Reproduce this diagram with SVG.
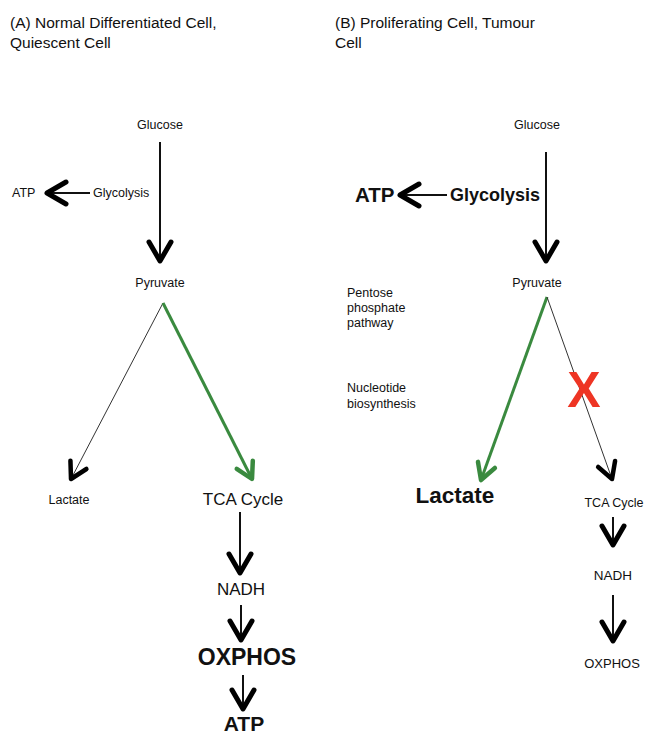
<svg xmlns="http://www.w3.org/2000/svg" width="646" height="735" viewBox="0 0 646 735">
<style>
text{font-family:"Liberation Sans",Arial,sans-serif;fill:#111}
.t{font-size:15.5px}
.s{font-size:12.5px}
.c{text-anchor:middle}
.b{font-weight:bold}
.ln{fill:none;stroke:#111;stroke-width:2}
.thin{fill:none;stroke:#333;stroke-width:1}
.gr{fill:none;stroke:#3a8a3f;stroke-width:3}
</style>
<defs>
<marker id="ah" markerUnits="userSpaceOnUse" orient="auto" refX="0" refY="0" markerWidth="30" markerHeight="30" viewBox="-24 -15 30 30" overflow="visible">
<path d="M-19,-11 L0,0 L-19,11" fill="none" stroke="#000" stroke-width="5" stroke-linecap="round" stroke-linejoin="round"/>
</marker>
<marker id="ahs" markerUnits="userSpaceOnUse" orient="auto" refX="0" refY="0" markerWidth="30" markerHeight="30" viewBox="-24 -15 30 30" overflow="visible">
<path d="M-16,-9 L0,0 L-16,9" fill="none" stroke="#000" stroke-width="4.5" stroke-linecap="round" stroke-linejoin="round"/>
</marker>
<marker id="ahg" markerUnits="userSpaceOnUse" orient="auto" refX="0" refY="0" markerWidth="30" markerHeight="30" viewBox="-24 -15 30 30" overflow="visible">
<path d="M-16,-9 L0,0 L-16,9" fill="none" stroke="#3a8a3f" stroke-width="4.5" stroke-linecap="round" stroke-linejoin="round"/>
</marker>
</defs>

<g id="titleA"><text class="t" x="10" y="28">(A) Normal Differentiated Cell,</text><text class="t" x="10" y="48">Quiescent Cell</text></g>
<g id="titleB"><text class="t" x="335" y="28">(B) Proliferating Cell, Tumour</text><text class="t" x="335" y="48">Cell</text></g>

<g id="connectors">
<line class="ln" x1="160" y1="142" x2="160" y2="261" marker-end="url(#ah)"/>
<line class="ln" x1="90" y1="193" x2="47" y2="193" marker-end="url(#ah)"/>
<line class="thin" x1="163" y1="303" x2="71" y2="479" marker-end="url(#ahs)"/>
<line class="gr" x1="163" y1="303" x2="252" y2="479" marker-end="url(#ahg)"/>
<line class="ln" x1="240" y1="512" x2="240" y2="573" marker-end="url(#ah)"/>
<line class="ln" x1="241" y1="605" x2="241" y2="640" marker-end="url(#ah)"/>
<line class="ln" x1="243" y1="675" x2="243" y2="709" marker-end="url(#ah)"/>

<line class="ln" x1="546" y1="152" x2="546" y2="261" marker-end="url(#ah)"/>
<line class="ln" x1="447" y1="195" x2="400" y2="195" marker-end="url(#ah)"/>
<line class="gr" x1="547" y1="297" x2="481" y2="480" marker-end="url(#ahg)"/>
<line class="thin" x1="547" y1="297" x2="612" y2="479" marker-end="url(#ahs)"/>
<line class="ln" x1="613" y1="517" x2="613" y2="545" marker-end="url(#ah)"/>
<line class="ln" x1="613" y1="595" x2="613" y2="641" marker-end="url(#ah)"/>
</g>

<g id="glucoseA"><text class="s c" x="160" y="129">Glucose</text></g>
<g id="glycolysisA"><text class="s" x="93" y="197">Glycolysis</text></g>
<g id="atpA1"><text class="s" x="12" y="197">ATP</text></g>
<g id="pyruvateA"><text class="s c" x="160" y="287">Pyruvate</text></g>
<g id="lactateA"><text class="s c" x="69" y="504">Lactate</text></g>
<g id="tcaA"><text class="c" x="243" y="505" font-size="17">TCA Cycle</text></g>
<g id="nadhA"><text class="c" x="241" y="595" font-size="17">NADH</text></g>
<g id="oxphosA"><text class="c b" x="247" y="665" font-size="23">OXPHOS</text></g>
<g id="atpA2"><text class="c b" x="244" y="731" font-size="21">ATP</text></g>

<g id="glucoseB"><text class="s c" x="537" y="129">Glucose</text></g>
<g id="glycolysisB"><text class="b" x="450" y="201" font-size="18">Glycolysis</text></g>
<g id="atpB"><text class="b" x="355" y="202" font-size="20.5">ATP</text></g>
<g id="pyruvateB"><text class="s c" x="537" y="287">Pyruvate</text></g>
<g id="ppp"><text class="s" x="347" y="297">Pentose</text><text class="s" x="347" y="312">phosphate</text><text class="s" x="347" y="327">pathway</text></g>
<g id="nucleotide"><text class="s" x="347" y="392">Nucleotide</text><text class="s" x="347" y="408">biosynthesis</text></g>
<g id="lactateB"><text class="c b" x="455" y="503" font-size="22.5">Lactate</text></g>
<g id="block"><text class="c b" x="584" y="407" font-size="50" style="fill:#ee3524">X</text></g>
<g id="tcaB"><text class="s c" x="614" y="507">TCA Cycle</text></g>
<g id="nadhB"><text class="c" x="613" y="580" font-size="13.5">NADH</text></g>
<g id="oxphosB"><text class="c" x="612" y="668" font-size="13">OXPHOS</text></g>
</svg>
